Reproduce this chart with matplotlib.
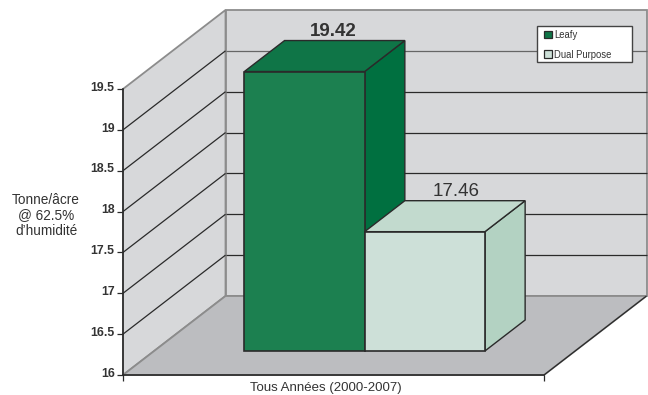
#!/usr/bin/env python3
"""Rendement par type de plante, barres en fausse 3D."""

import matplotlib
matplotlib.use("Agg")
import matplotlib.pyplot as plt
from matplotlib.patches import Patch, Polygon, Rectangle
from matplotlib.transforms import ScaledTranslation

plt.rcParams['font.family'] = ['Liberation Sans', 'DejaVu Sans']

series_names = ["Leafy", "Dual Purpose"]
series_values = [19.42, 17.46]
y_ticks = [16, 16.5, 17, 17.5, 18, 18.5, 19, 19.5]
y_tick_labels = ["16", "16.5", "17", "17.5", "18", "18.5", "19", "19.5"]
y_title = "Tonne/âcre\n@ 62.5%\nd’humidité"
x_title = "Tous Années (2000-2007)"

# 3 faces par barre: devant, dessus, côté
front_colors = ["#1c8050", "#cde0d8"]
top_colors = ["#0f7547", "#c2dace"]
side_colors = ["#007040", "#b3d2c2"]

WALL = "#d7d8da"
FLOOR = "#bcbdc0"
EDGE = "#8c8c8c"
DARK = "#2a2a2a"
TEXT = "#333333"

# décalage de la profondeur, en unités de données
DEPTH_X = 0.2435
DEPTH_Y = 0.967
Y_MIN = y_ticks[0]
Y_MAX = y_ticks[-1]


def project(x, y, depth):
    return (x + depth * DEPTH_X, y + depth * DEPTH_Y)


def face(ax, corners, color, edge, lw=1.0, zorder=1):
    points = [project(*c) for c in corners]
    ax.add_patch(Polygon(points, closed=True, facecolor=color, edgecolor=edge,
                         linewidth=lw, clip_on=False, zorder=zorder,
                         joinstyle='miter'))


def segment(ax, start, end, color, lw=1.0, zorder=2):
    p0 = project(*start)
    p1 = project(*end)
    ax.plot([p0[0], p1[0]], [p0[1], p1[1]], color=color, linewidth=lw,
            clip_on=False, zorder=zorder, solid_capstyle='butt')


def draw_box(ax, x0, x1, value, d0, d1, i):
    face(ax, [(x1, Y_MIN, d0), (x1, Y_MIN, d1), (x1, value, d1), (x1, value, d0)],
         side_colors[i], DARK, zorder=5 + i)
    face(ax, [(x0, value, d0), (x1, value, d0), (x1, value, d1), (x0, value, d1)],
         top_colors[i], DARK, zorder=5 + i)
    face(ax, [(x0, Y_MIN, d0), (x1, Y_MIN, d0), (x1, value, d0), (x0, value, d0)],
         front_colors[i], DARK, lw=1.2, zorder=5 + i)


def main():
    fig = plt.figure(figsize=(6.48, 3.95), dpi=100)
    ax = fig.add_axes([123 / 648, 1 - 375 / 395, 421 / 648, 286 / 395])
    ax.set_xlim(0, 1)
    ax.set_ylim(Y_MIN, Y_MAX)
    ax.patch.set_visible(False)

    # parois et plancher
    face(ax, [(0, Y_MIN, 0), (0, Y_MIN, 1), (0, Y_MAX, 1), (0, Y_MAX, 0)], WALL, EDGE, lw=1.3, zorder=0)
    face(ax, [(0, Y_MIN, 1), (1, Y_MIN, 1), (1, Y_MAX, 1), (0, Y_MAX, 1)], WALL, EDGE, lw=1.3, zorder=0)
    face(ax, [(0, Y_MIN, 0), (1, Y_MIN, 0), (1, Y_MIN, 1), (0, Y_MIN, 1)], FLOOR, EDGE, lw=1.3, zorder=1)
    segment(ax, (1, Y_MIN, 0), (1, Y_MIN, 1), DARK, lw=0.9)

    # quadrillage sur les deux parois
    for v in y_ticks[1:-1]:
        segment(ax, (0, v, 0), (0, v, 1), DARK, lw=0.9)
        segment(ax, (0, v, 1), (1, v, 1), DARK if v < 19 else "#666666", lw=0.9)

    # barres
    bar_width = 2 / 7
    bar_start = 1.5 / 7
    d0, d1 = 0.304, 0.696
    for i, value in enumerate(series_values):
        x0 = bar_start + i * bar_width
        draw_box(ax, x0, x0 + bar_width, value, d0, d1, i)

    # étiquettes de valeur
    label_weights = ["bold", "normal"]
    label_shift = [0.0, 0.008]
    for i, value in enumerate(series_values):
        x0 = bar_start + i * bar_width
        px, py = project(x0 + bar_width / 2 + label_shift[i], value, d1)
        ax.annotate(f"{value:.2f}", (px, py), xytext=(-8.6, 0.5), textcoords='offset points',
                    ha='center', va='bottom', fontsize=13.5, color=TEXT,
                    fontweight=label_weights[i], annotation_clip=False, zorder=8)

    # axes
    for name in ['top', 'right']:
        ax.spines[name].set_visible(False)
    for name in ['left', 'bottom']:
        ax.spines[name].set_color(DARK)
        ax.spines[name].set_linewidth(1.2)
        ax.spines[name].set_zorder(4)
    ax.set_yticks(y_ticks)
    ax.set_yticklabels(y_tick_labels, fontsize=8.8, fontweight='bold', color=TEXT)
    ax.tick_params(axis='y', length=4.5, width=0.9, color=DARK, pad=1.5)
    # libellés un peu au-dessus des graduations
    lift = ScaledTranslation(0, 2 / 72, fig.dpi_scale_trans)
    for label in ax.get_yticklabels():
        label.set_transform(label.get_transform() + lift)
    ax.set_xticks([0, 1])
    ax.set_xticklabels(["", ""])
    ax.tick_params(axis='x', length=4.5, width=0.9, color=DARK)
    ax.set_xlabel(x_title, fontsize=9.5, color=TEXT, x=0.482, labelpad=-3)
    fig.text(46 / 648, 1 - 215.5 / 395, y_title, ha='center', va='center',
             fontsize=9.8, color=TEXT, linespacing=1.17)

    # légende: cadre dessiné à part pour garder la largeur de l'original
    fig.add_artist(Rectangle((537 / 648, 1 - 62 / 395), 95 / 648, 36 / 395,
                             transform=fig.transFigure, facecolor='white',
                             edgecolor='#444444', linewidth=1.0, zorder=9))
    handles = [Patch(facecolor=top_colors[0], edgecolor=DARK, linewidth=0.9, label=series_names[0]),
               Patch(facecolor=front_colors[1], edgecolor=DARK, linewidth=0.9, label=series_names[1])]
    legend = fig.legend(handles=handles, loc='upper left',
                        bbox_to_anchor=(544 / 648, 1 - 30 / 395),
                        fontsize=6.85, frameon=False,
                        handlelength=0.85, handleheight=0.85,
                        handletextpad=0.25, labelspacing=1.0, borderpad=0,
                        borderaxespad=0, labelcolor=TEXT)
    legend.set_zorder(10)

    fig.savefig("out.png", dpi=100)


if __name__ == "__main__":
    main()
